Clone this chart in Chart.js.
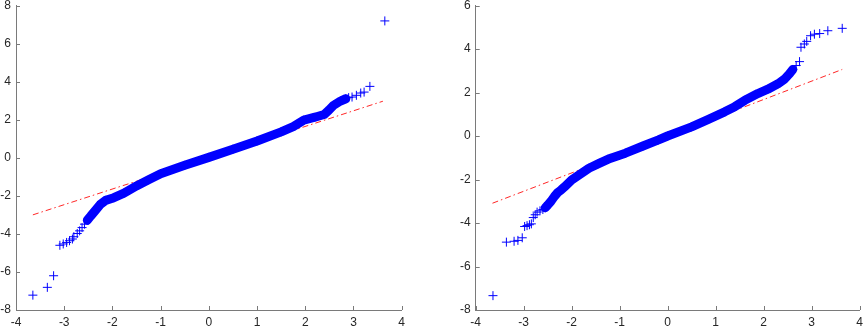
<!DOCTYPE html>
<html>
<head>
<meta charset="utf-8">
<script src="https://cdn.jsdelivr.net/npm/chart.js@4.4.0/dist/chart.umd.min.js"></script>
<style>
    html, body { margin: 0; padding: 0; background: #fff; }
    body { width: 865px; height: 327px; position: relative; overflow: hidden; }
    canvas { position: absolute; top: 0; }
    #qqLeft { left: 0; }
    #qqRight { left: 435px; }
</style>
</head>
<body>
<canvas id="qqLeft" width="430" height="327"></canvas>
<canvas id="qqRight" width="430" height="327"></canvas>
<script>
    "use strict";

    // Tick labels
    var xTicks = [-4, -3, -2, -1, 0, 1, 2, 3, 4];
    var leftYTicks = [-8, -6, -4, -2, 0, 2, 4, 6, 8];
    var rightYTicks = [-8, -6, -4, -2, 0, 2, 4, 6];

    // Left QQ plot (standard normal quantiles vs sample quantiles)
    var leftLowX = [-3.65, -3.35, -3.22, -3.09, -3.02, -2.95, -2.89, -2.83, -2.80, -2.73, -2.68, -2.63, -2.58];
    var leftLowY = [-7.22, -6.81, -6.20, -4.60, -4.53, -4.45, -4.36, -4.27, -4.15, -3.98, -3.84, -3.67, -3.49];
    var leftBodyX = [-2.52, -2.45, -2.35, -2.25, -2.14, -1.97, -1.76, -1.50, -1.25, -1.00, -0.50, 0.00, 0.50, 1.00, 1.50, 1.75, 1.97, 2.20, 2.39, 2.49, 2.59, 2.73, 2.84];
    var leftBodyY = [-3.28, -3.06, -2.76, -2.45, -2.24, -2.10, -1.86, -1.48, -1.16, -0.84, -0.40, 0.02, 0.45, 0.88, 1.36, 1.64, 1.98, 2.13, 2.27, 2.50, 2.76, 2.98, 3.10];
    var leftHighX = [2.90, 2.97, 3.06, 3.15, 3.22, 3.34, 3.65];
    var leftHighY = [3.16, 3.19, 3.28, 3.40, 3.45, 3.75, 7.19];
    var leftRefX = [-3.65, 3.61];
    var leftRefY = [-3.00, 2.97];

    // Right QQ plot
    var rightLowX = [-3.64, -3.36, -3.20, -3.12, -3.03, -2.98, -2.93, -2.88, -2.84, -2.80, -2.76, -2.72, -2.66, -2.60];
    var rightLowY = [-7.34, -4.88, -4.84, -4.80, -4.68, -4.16, -4.12, -4.08, -4.04, -3.75, -3.62, -3.50, -3.44, -3.38];
    var rightBodyX = [-2.55, -2.50, -2.43, -2.36, -2.29, -2.22, -2.15, -2.00, -1.84, -1.64, -1.45, -1.20, -0.88, -0.50, -0.19, 0.00, 0.50, 0.85, 1.19, 1.40, 1.61, 1.88, 2.09, 2.30, 2.44, 2.54, 2.61];
    var rightBodyY = [-3.30, -3.18, -3.00, -2.78, -2.60, -2.48, -2.34, -2.02, -1.78, -1.48, -1.28, -1.03, -0.79, -0.45, -0.18, 0.00, 0.42, 0.76, 1.11, 1.35, 1.64, 1.95, 2.15, 2.40, 2.62, 2.86, 3.06];
    var rightHighX = [2.68, 2.75, 2.78, 2.85, 2.90, 2.98, 3.06, 3.17, 3.34, 3.64];
    var rightHighY = [3.24, 3.42, 4.08, 4.23, 4.35, 4.61, 4.68, 4.71, 4.84, 4.95];
    var rightRefX = [-3.65, 3.64];
    var rightRefY = [-3.09, 3.06];

    var BLUE = "#0000ff";
    var RED = "rgba(255, 0, 0, 0.85)";
    var AXIS = "#7a7a7a";
    var FONT = { family: "'Liberation Sans', Arial, sans-serif", size: 12 };

    function pts(xs, ys) {
        return xs.map(function (x, i) { return { x: x, y: ys[i] }; });
    }

    function useTicks(values) {
        return function (scale) {
            scale.ticks = values.map(function (v) { return { value: v }; });
        };
    }

    // MATLAB style ticks pointing into the plot
    var inwardTicks = {
        id: "inwardTicks",
        afterDraw: function (chart) {
            var c = chart.ctx, a = chart.chartArea;
            var sx = chart.scales.x, sy = chart.scales.y;
            c.save();
            c.strokeStyle = AXIS;
            c.lineWidth = 1;
            c.beginPath();
            sx.ticks.forEach(function (t) {
                var p = Math.round(sx.getPixelForValue(t.value)) + 0.5;
                c.moveTo(p, a.bottom);
                c.lineTo(p, a.bottom - 4);
            });
            sy.ticks.forEach(function (t) {
                var p = Math.round(sy.getPixelForValue(t.value)) + 0.5;
                c.moveTo(a.left, p);
                c.lineTo(a.left + 4, p);
            });
            c.stroke();
            c.restore();
        }
    };

    function qqChart(id, d) {
        var ctx = document.getElementById(id).getContext("2d");
        var crossStyle = {
            pointStyle: "cross",
            pointRadius: 4.5,
            pointBorderWidth: 1,
            pointBorderColor: BLUE,
            pointBackgroundColor: BLUE
        };
        return new Chart(ctx, {
            type: "scatter",
            data: {
                datasets: [
                    Object.assign({
                        data: pts(d.bodyX, d.bodyY),
                        showLine: true,
                        borderColor: BLUE,
                        borderWidth: 9,
                        borderCapStyle: "round",
                        borderJoinStyle: "round",
                        order: 1
                    }, crossStyle),
                    Object.assign({
                        data: pts(d.lowX, d.lowY).concat(pts(d.highX, d.highY)),
                        showLine: false,
                        order: 1
                    }, crossStyle),
                    {
                        data: pts(d.refX, d.refY),
                        showLine: true,
                        borderColor: RED,
                        borderWidth: 1,
                        borderDash: [6, 3, 1.5, 3],
                        pointRadius: 0,
                        order: 2
                    }
                ]
            },
            options: {
                responsive: false,
                animation: false,
                devicePixelRatio: 1,
                layout: { padding: d.pad },
                plugins: { legend: { display: false }, tooltip: { enabled: false } },
                scales: {
                    x: {
                        type: "linear",
                        min: -4,
                        max: 4,
                        afterBuildTicks: useTicks(xTicks),
                        grid: { display: false, drawTicks: false },
                        border: { display: true, color: AXIS, width: 1 },
                        ticks: { color: "#262626", font: FONT, padding: 5, maxRotation: 0 },
                        afterFit: function (s) {
                            s.height = 17;
                            s.paddingLeft = 0;
                            s.paddingRight = 0;
                        }
                    },
                    y: {
                        type: "linear",
                        min: -8,
                        max: d.yMax,
                        afterBuildTicks: useTicks(d.yTicks),
                        grid: { display: false, drawTicks: false },
                        border: { display: true, color: AXIS, width: 1 },
                        ticks: { color: "#262626", font: FONT, padding: 5 },
                        afterFit: function (s) {
                            s.width = d.yWidth;
                            s.paddingTop = 0;
                            s.paddingBottom = 0;
                        }
                    }
                }
            },
            plugins: [inwardTicks]
        });
    }

    qqChart("qqLeft", {
        lowX: leftLowX, lowY: leftLowY,
        bodyX: leftBodyX, bodyY: leftBodyY,
        highX: leftHighX, highY: leftHighY,
        refX: leftRefX, refY: leftRefY,
        yMax: 8, yTicks: leftYTicks, yWidth: 16,
        pad: { top: 3.5, right: 28.3, left: 0, bottom: 0 }
    });

    qqChart("qqRight", {
        lowX: rightLowX, lowY: rightLowY,
        bodyX: rightBodyX, bodyY: rightBodyY,
        highX: rightHighX, highY: rightHighY,
        refX: rightRefX, refY: rightRefY,
        yMax: 6, yTicks: rightYTicks, yWidth: 40.7,
        pad: { top: 3.3, right: 2.7, left: 0, bottom: 0 }
    });
</script>
</body>
</html>
